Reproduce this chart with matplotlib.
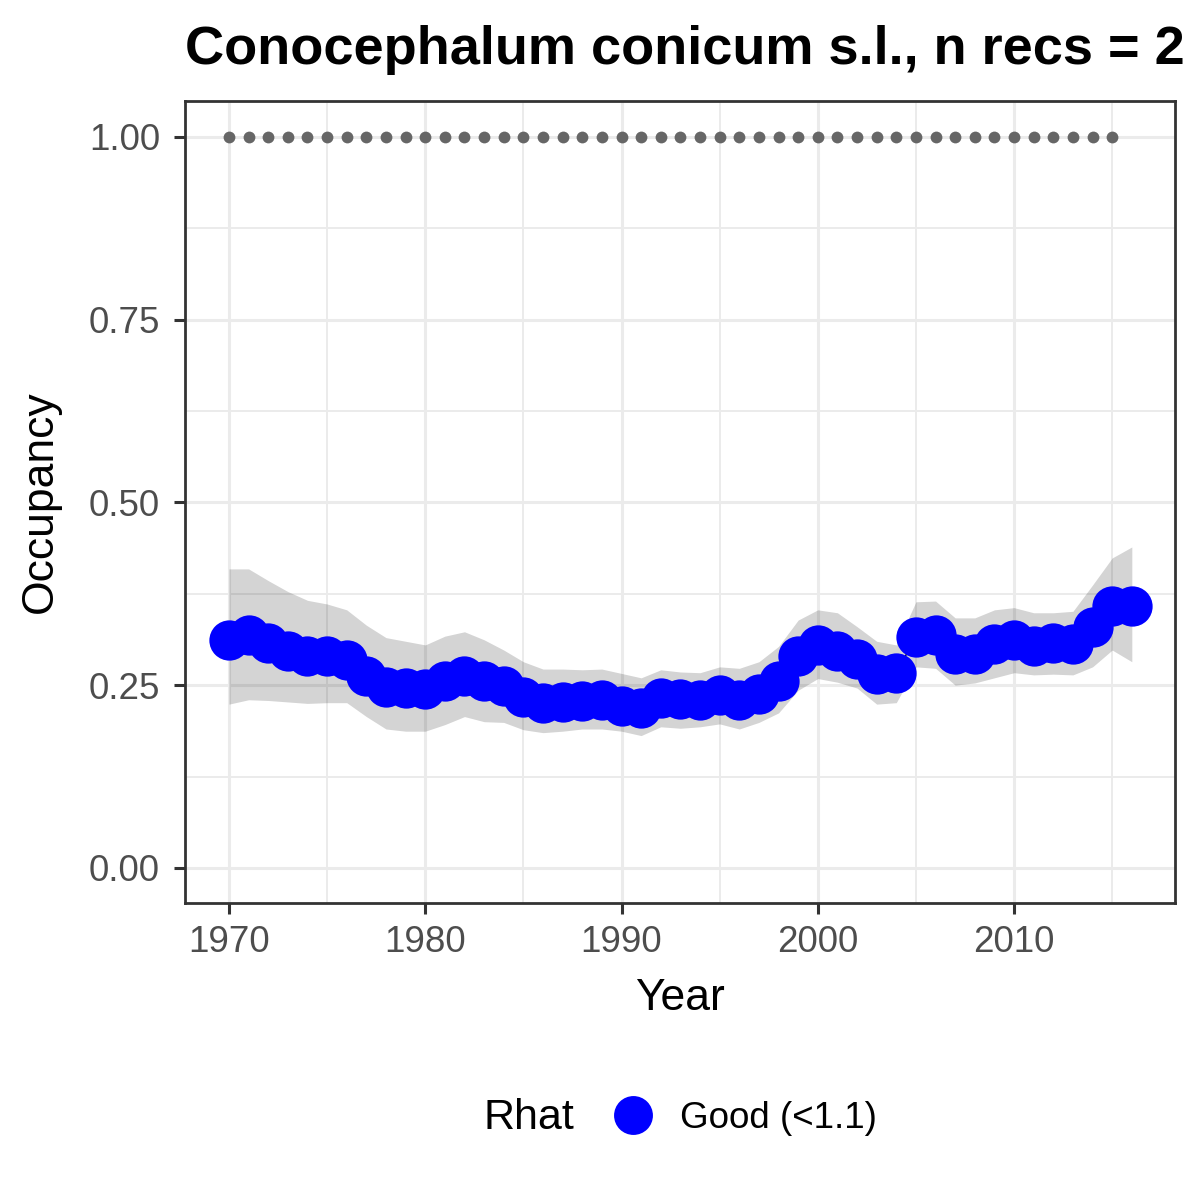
import matplotlib
matplotlib.use("Agg")
import matplotlib.pyplot as plt
from matplotlib.lines import Line2D
from matplotlib.ticker import MultipleLocator

plt.rcParams['font.family'] = ['Liberation Sans', 'DejaVu Sans']

years = list(range(1970, 2017))
occupancy = [0.312, 0.318, 0.308, 0.297, 0.290, 0.290, 0.284, 0.263, 0.247, 0.246,
             0.245, 0.255, 0.263, 0.255, 0.249, 0.234, 0.226, 0.227, 0.228, 0.230,
             0.222, 0.219, 0.233, 0.231, 0.230, 0.236, 0.230, 0.238, 0.255, 0.290,
             0.305, 0.297, 0.286, 0.265, 0.267, 0.316, 0.319, 0.293, 0.293, 0.306,
             0.312, 0.304, 0.308, 0.306, 0.330, 0.358, 0.358]
upper = [0.409, 0.409, 0.393, 0.378, 0.366, 0.361, 0.353, 0.332, 0.315, 0.310,
         0.305, 0.317, 0.323, 0.312, 0.298, 0.282, 0.272, 0.272, 0.271, 0.272,
         0.266, 0.260, 0.271, 0.268, 0.267, 0.275, 0.273, 0.282, 0.303, 0.339,
         0.353, 0.349, 0.330, 0.310, 0.305, 0.364, 0.365, 0.342, 0.342, 0.353,
         0.356, 0.349, 0.349, 0.351, 0.387, 0.424, 0.439]
lower = [0.224, 0.230, 0.229, 0.227, 0.225, 0.226, 0.226, 0.207, 0.190, 0.187,
         0.187, 0.196, 0.207, 0.200, 0.199, 0.189, 0.185, 0.187, 0.190, 0.190,
         0.187, 0.181, 0.193, 0.191, 0.193, 0.197, 0.190, 0.199, 0.212, 0.243,
         0.259, 0.254, 0.246, 0.224, 0.226, 0.275, 0.273, 0.250, 0.253, 0.260,
         0.267, 0.264, 0.265, 0.264, 0.275, 0.298, 0.282]
record_years = list(range(1970, 2016))
record_level = [1.0] * len(record_years)

x_ticks = [1970, 1980, 1990, 2000, 2010]
y_ticks = [0.00, 0.25, 0.50, 0.75, 1.00]
y_tick_labels = ["0.00", "0.25", "0.50", "0.75", "1.00"]

title = "Conocephalum conicum s.l., n recs = 2"
legend_title = "Rhat"
legend_label = "Good (<1.1)"

W = H = 1200
fig = plt.figure(figsize=(12, 12), dpi=100)
ax = fig.add_axes([185 / W, 1 - 903 / H, (1175 - 185) / W, (903 - 101) / H])

ax.set_xlim(1967.76, 2018.2)
ax.set_ylim(-0.048, 1.049)

grid_col = '#EBEBEB'
ax.set_xticks(x_ticks)
ax.set_yticks(y_ticks)
ax.set_yticklabels(y_tick_labels)
ax.xaxis.set_minor_locator(MultipleLocator(5))
ax.yaxis.set_minor_locator(MultipleLocator(0.125))
ax.grid(which='major', color=grid_col, linewidth=2.2, zorder=0)
ax.grid(which='minor', color=grid_col, linewidth=1.4, zorder=0)
ax.set_axisbelow(True)
ax.tick_params(which='minor', length=0)
ax.tick_params(which='major', length=8, width=2.2, color='#333333',
               labelcolor='#4D4D4D', labelsize=26.5)
ax.tick_params(axis='y', pad=10)
ax.tick_params(axis='x', pad=8)
for s in ax.spines.values():
    s.set_color('#333333')
    s.set_linewidth(2)

ax.fill_between(years, lower, upper, color='black', alpha=0.17, linewidth=0, zorder=2)
ax.plot(years, occupancy, color='black', linewidth=1, zorder=3)
ax.scatter(years, occupancy, s=29 ** 2, color='#0000FF', linewidths=0, zorder=4)
ax.scatter(record_years, record_level, s=8.5 ** 2, color='#666666', linewidths=0, zorder=4)

ax.set_xlabel("Year", fontsize=32, color='black', labelpad=13)
ax.set_ylabel("Occupancy", fontsize=32, color='black', labelpad=20)

fig.text(185 / W, 1 - 64 / H, title, fontsize=39, fontweight='bold',
         ha='left', va='baseline', color='black')

fig.text(483 / W, 1 - 1118 / H, legend_title, fontsize=31, ha='left', va='center')
handle = Line2D([], [], marker='o', linestyle='none', markersize=28,
                markerfacecolor='#0000FF', markeredgewidth=0)
fig.legend(handles=[handle], labels=[legend_label], loc='center left',
           bbox_to_anchor=(611 / W, 1 - 1118 / H), frameon=False,
           fontsize=26.5, handletextpad=0.68, borderaxespad=0, borderpad=0,
           handlelength=1.2)

fig.savefig("out.png", dpi=100)
